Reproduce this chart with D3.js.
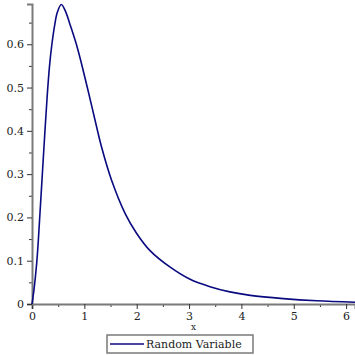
<!DOCTYPE html>
<html>
<head>
<meta charset="utf-8">
<script src="https://cdn.jsdelivr.net/npm/d3@7"></script>
<style>
  body { margin: 0; background: #fff; }
  text { font-family: "DejaVu Serif", serif; fill: #222; }
</style>
</head>
<body>
<svg width="355" height="355"></svg>
<script>
// curve points
var xVals = [0, 0.04, 0.09, 0.12, 0.155, 0.2, 0.245, 0.29, 0.335, 0.38, 0.434, 0.484, 0.56,
             0.644, 0.72, 0.866, 1.057, 1.19, 1.33, 1.52, 1.78, 2.0, 2.25, 2.64, 3.02,
             3.4, 3.78, 4.17, 4.8, 5.44, 6.17];
var yVals = [0, 0.035, 0.095, 0.145, 0.215, 0.305, 0.395, 0.48, 0.55, 0.60, 0.645, 0.674, 0.692,
             0.675, 0.648, 0.592, 0.50, 0.432, 0.362, 0.286, 0.209, 0.163, 0.124, 0.085, 0.057,
             0.04, 0.028, 0.02, 0.0125, 0.0074, 0.004];
var xTicks = [0, 1, 2, 3, 4, 5, 6];
var yTicks = [0, 0.1, 0.2, 0.3, 0.4, 0.5, 0.6];
var seriesName = "Random Variable";

var svg = d3.select("svg");
var mLeft = 32, mRight = 355, mTop = 4, mBottom = 304;

var x = d3.scaleLinear().domain([0, 6.17]).range([mLeft, mRight]);
var y = d3.scaleLinear().domain([0, 0.693]).range([mBottom, mTop]);

var axisColor = "#7a7a7a";

// minor ticks
svg.append("g")
    .attr("transform", "translate(0," + mBottom + ")")
    .call(d3.axisBottom(x).tickValues(d3.range(0.5, 6.2, 1)).tickSize(3).tickFormat(""))
    .call(g => g.select(".domain").remove())
    .selectAll("line").attr("stroke", "#333");
svg.append("g")
    .attr("transform", "translate(" + mLeft + ",0)")
    .call(d3.axisLeft(y).tickValues(d3.range(0.05, 0.69, 0.1)).tickSize(3).tickFormat(""))
    .call(g => g.select(".domain").remove())
    .selectAll("line").attr("stroke", "#333");

// main axes
var xAxis = svg.append("g")
    .attr("transform", "translate(0," + mBottom + ")")
    .call(d3.axisBottom(x).tickValues(xTicks).tickSize(5).tickPadding(3).tickFormat(d3.format("d")));
var yAxis = svg.append("g")
    .attr("transform", "translate(" + mLeft + ",0)")
    .call(d3.axisLeft(y).tickValues(yTicks).tickSize(5).tickPadding(3)
          .tickFormat(d => d === 0 ? "0" : d3.format(".1f")(d)));

[xAxis, yAxis].forEach(function (g) {
  g.select(".domain").attr("stroke", axisColor).attr("stroke-width", 2);
  g.selectAll(".tick line").attr("stroke", "#333");
  g.selectAll(".tick text").attr("font-family", "DejaVu Serif").attr("font-size", 11).attr("fill", "#222");
});

// the curve
var line = d3.line()
    .x(function (d, i) { return x(xVals[i]); })
    .y(function (d, i) { return y(yVals[i]); })
    .curve(d3.curveCatmullRom.alpha(0.5));

svg.append("path")
    .datum(xVals)
    .attr("d", line)
    .attr("fill", "none")
    .attr("stroke", "#0a0a80")
    .attr("stroke-width", 1.6);

// axis label
svg.append("text")
    .attr("x", (mLeft + mRight) / 2)
    .attr("y", 330)
    .attr("text-anchor", "middle")
    .attr("font-size", 9)
    .text("x");

// legend
var lg = svg.append("g");
lg.append("rect")
    .attr("x", 107).attr("y", 335)
    .attr("width", 146).attr("height", 18)
    .attr("fill", "#fff")
    .attr("stroke", axisColor)
    .attr("stroke-width", 1.5);
lg.append("line")
    .attr("x1", 110).attr("x2", 144)
    .attr("y1", 344).attr("y2", 344)
    .attr("stroke", "#0a0a80")
    .attr("stroke-width", 1.6);
lg.append("text")
    .attr("x", 146).attr("y", 348)
    .attr("font-size", 11)
    .text(seriesName);
</script>
</body>
</html>
